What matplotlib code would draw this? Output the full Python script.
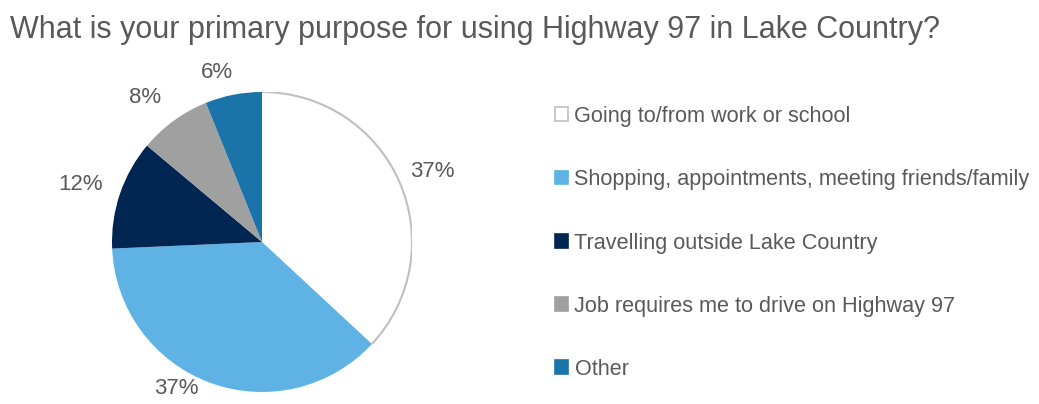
import numpy as np
import matplotlib
matplotlib.use("Agg")
import matplotlib.pyplot as plt
from matplotlib.patches import Patch, Arc
from matplotlib import font_manager

categories = [
    "Going to/from work or school",
    "Shopping, appointments, meeting friends/family",
    "Travelling outside Lake Country",
    "Job requires me to drive on Highway 97",
    "Other",
]
values = [36.9, 37.4, 11.8, 7.8, 6.1]
colors = ["#FFFFFF", "#5EB3E4", "#002651", "#A0A0A0", "#1B74A9"]
title = "What is your primary purpose for using Highway 97 in Lake Country?"

names = {f.name for f in font_manager.fontManager.ttflist}
fam = ["Liberation Sans Narrow"] if "Liberation Sans Narrow" in names else ["Liberation Sans"]
fam = fam + ["DejaVu Sans"]
plt.rcParams["font.family"] = fam
txt = "#595959"

W, H = 1039, 404
fig = plt.figure(figsize=(W / 100, H / 100), dpi=100)
cx, cy, r = 262, 404 - 242, 150
ax = fig.add_axes([(cx - r) / W, (cy - r) / H, 2 * r / W, 2 * r / H])
wedges, _ = ax.pie(values, colors=colors, startangle=90, counterclock=False,
                   radius=1.0, wedgeprops=dict(linewidth=0))
w0 = wedges[0]
ax.add_patch(Arc((0, 0), 2 * w0.r, 2 * w0.r, theta1=w0.theta1, theta2=w0.theta2,
                 color="#BFBFBF", linewidth=1.5, zorder=3))
ax.set_xlim(-1, 1)
ax.set_ylim(-1, 1)
ax.set_aspect("equal")
ax.axis("off")

# label placement (layout only)
label_radius = [1.23, 1.13, 1.27, 1.24, 1.17]
label_nudge = [1, 10, -1, -3, -4]
total = sum(values)
cum = 0.0
for i, v in enumerate(values):
    mid = (cum + v / 2) / total * 360 + label_nudge[i]
    cum += v
    th = np.deg2rad(mid)
    x = label_radius[i] * np.sin(th)
    y = label_radius[i] * np.cos(th)
    ax.text(x, y, f"{v / total * 100:.0f}%", ha="center", va="center",
            fontsize=16, color=txt, clip_on=False)

fig.text(10 / W, 1 - 30 / H, title, fontsize=22, color=txt, ha="left", va="center")

handles = [Patch(facecolor=c, edgecolor=("#BFBFBF" if i == 0 else c), linewidth=1.2)
           for i, c in enumerate(colors)]
leg = fig.legend(handles, categories, loc="upper left",
                 bbox_to_anchor=(555 / W, 1 - 106 / H), frameon=False,
                 fontsize=15.6, labelcolor=txt, handlelength=0.6, handleheight=0.6,
                 handletextpad=0.3, labelspacing=1.95, borderpad=0, borderaxespad=0)

fig.savefig("out.png", dpi=100)
